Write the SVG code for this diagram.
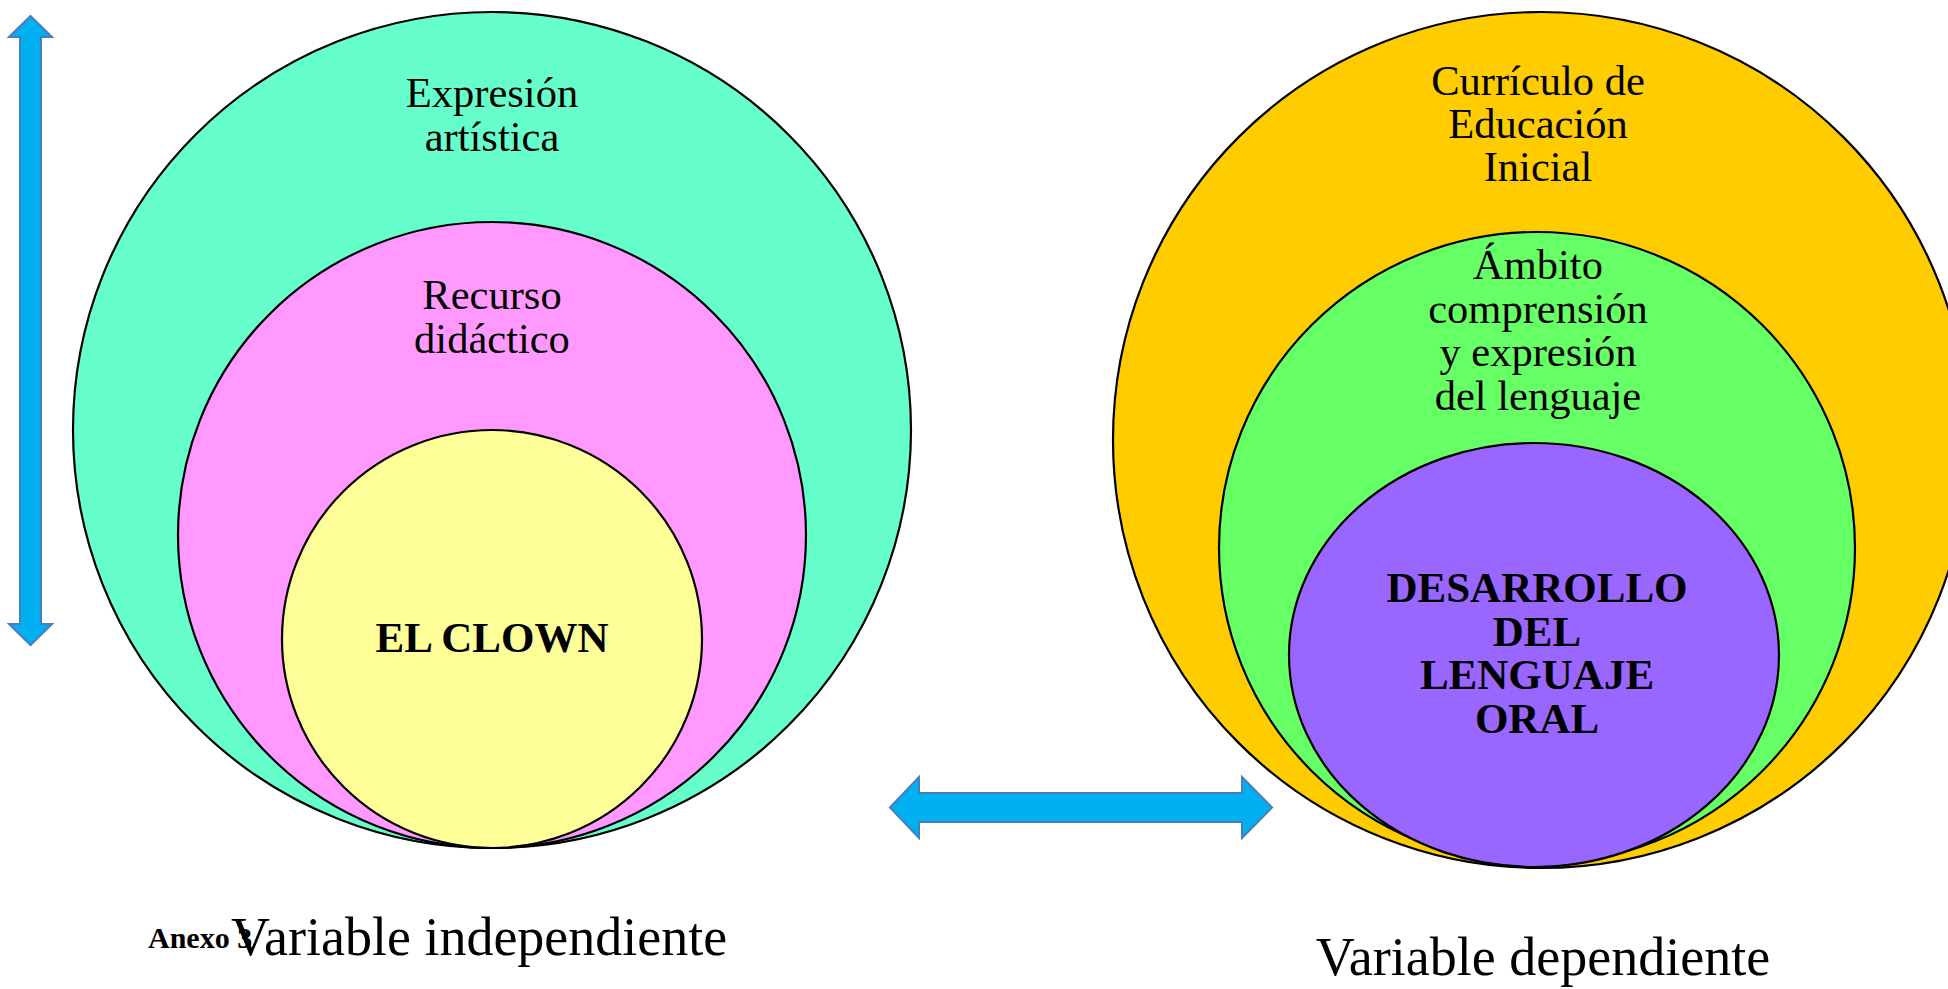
<svg xmlns="http://www.w3.org/2000/svg" width="1948" height="989" viewBox="0 0 1948 989">
<style>
.c{stroke:#000;stroke-width:2.2}
.t{font-family:"Liberation Serif","Times New Roman",serif;font-size:42.5px;fill:#000;text-anchor:middle}
.b{font-family:"Liberation Serif","Times New Roman",serif;font-size:43px;font-weight:bold;fill:#000;text-anchor:middle}
.v{font-family:"Liberation Serif","Times New Roman",serif;font-size:54px;fill:#000}
.a{fill:#00B0F0;stroke:#4A7EBB;stroke-width:2}
</style>
<rect width="1948" height="989" fill="#fff"/>
<g id="connectors">
<path class="a" d="M30.5,16 L52,37 L41,37 L41,624 L52,624 L30.5,645 L9,624 L20,624 L20,37 L9,37 Z"/>
<path class="a" d="M890,807.5 L919,777 L919,793 L1242,793 L1242,777 L1272,807.5 L1242,838 L1242,822 L919,822 L919,838 Z"/>
</g>
<g id="n-expresion">
<ellipse class="c" cx="492" cy="430" rx="419" ry="418" fill="#66FFCC"/>
<text class="t" x="492" y="107">Expresión</text>
<text class="t" x="492" y="151">artística</text>
</g>
<g id="n-recurso">
<ellipse class="c" cx="492" cy="535" rx="314" ry="313" fill="#FF99FF"/>
<text class="t" x="492" y="309">Recurso</text>
<text class="t" x="492" y="353">didáctico</text>
</g>
<g id="n-clown">
<ellipse class="c" cx="492" cy="639" rx="210" ry="209" fill="#FFFF99"/>
<text class="b" x="492" y="652">EL CLOWN</text>
</g>
<g id="n-curriculo">
<ellipse class="c" cx="1541" cy="440" rx="428" ry="428" fill="#FFCC00"/>
<text class="t" x="1538" y="95">Currículo de</text>
<text class="t" x="1538" y="138">Educación</text>
<text class="t" x="1538" y="181">Inicial</text>
</g>
<g id="n-ambito">
<ellipse class="c" cx="1537" cy="548" rx="318" ry="316" fill="#66FF66"/>
<text class="t" x="1538" y="279">Ámbito</text>
<text class="t" x="1538" y="323">comprensión</text>
<text class="t" x="1538" y="366">y expresión</text>
<text class="t" x="1538" y="410">del lenguaje</text>
</g>
<g id="n-desarrollo">
<ellipse class="c" cx="1534" cy="655" rx="245" ry="212" fill="#9966FF"/>
<text class="b" x="1537" y="602">DESARROLLO</text>
<text class="b" x="1537" y="646">DEL</text>
<text class="b" x="1537" y="689">LENGUAJE</text>
<text class="b" x="1537" y="733">ORAL</text>
</g>
<g id="labels">
<text x="148" y="948" style="font-family:'Liberation Serif','Times New Roman',serif;font-size:30px;font-weight:bold">Anexo 3</text>
<text class="v" x="231" y="955">Variable independiente</text>
<text class="v" x="1543" y="975" text-anchor="middle">Variable dependiente</text>
</g>
</svg>
